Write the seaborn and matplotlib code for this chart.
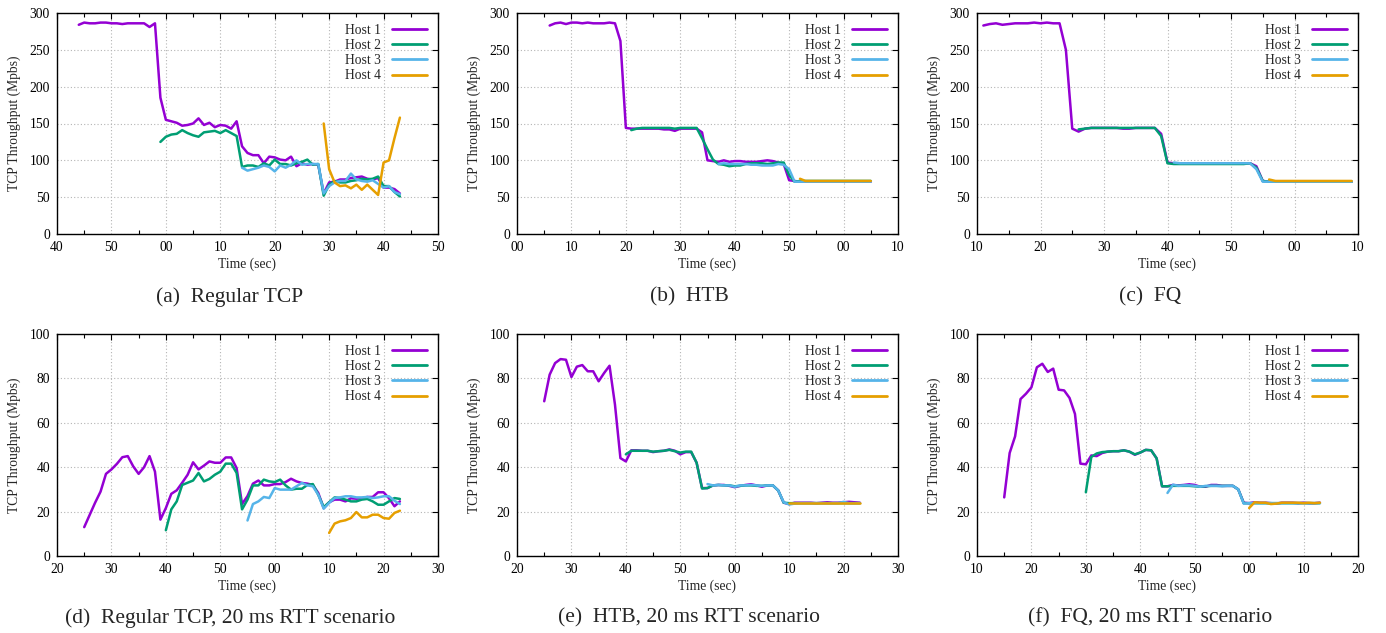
import numpy as np
import pandas as pd
import matplotlib
matplotlib.use("Agg")
import matplotlib.pyplot as plt
from matplotlib.ticker import FuncFormatter, MultipleLocator
import seaborn as sns

# ---------------- data (per-second throughput samples, Mbps) ----------------
HOSTS = ["Host 1", "Host 2", "Host 3", "Host 4"]
COLORS = ["#9400D3", "#009E73", "#56B4E9", "#E69F00"]

# (a) Regular TCP
A_START = [44, 59, 74, 89]
A_H1 = [284, 287, 286, 286, 287, 287, 286, 286, 285, 286, 286, 286, 286, 281, 286,
        185, 155, 153, 151, 147, 148, 150, 157, 148, 151, 145, 148, 147, 143, 153,
        119, 110, 107, 107, 96, 105, 104, 101, 100, 105, 92, 96, 94, 95, 94,
        55, 70, 71, 74, 74, 76, 77, 78, 75, 74, 76, 63, 63, 61, 55]
A_H2 = [125, 132, 135, 136, 141, 137, 134, 132, 138, 139, 140, 137, 141, 137, 133,
        91, 93, 93, 91, 96, 93, 101, 95, 95, 93, 96, 98, 101, 94, 95,
        52, 67, 72, 70, 70, 72, 73, 75, 74, 75, 78, 65, 65, 57, 51]
A_H3 = [90, 86, 88, 90, 93, 91, 85, 93, 90, 94, 100, 94, 95, 95, 95,
        55, 65, 70, 72, 72, 82, 74, 72, 71, 73, 68, 63, 65, 57, 54]
A_H4 = [150, 88, 70, 65, 66, 62, 67, 60, 67, 60, 53, 97, 100, 130, 158]

# (b) HTB
B_START = [6, 21, 37, 52]
B_H1 = [283, 286, 287, 285, 287, 287, 286, 287, 286, 286, 286, 287, 286, 262, 144,
        143, 143, 143, 143, 143, 143, 142, 142, 140, 143, 143, 143, 143, 138, 100,
        99, 98, 100, 98, 99, 99, 98, 98, 98, 99, 100, 99, 97, 95, 73,
        72, 71, 71, 71, 71, 71, 71, 71, 71, 71, 71, 71, 71, 71, 71]
B_H2 = [141, 143, 144, 144, 144, 144, 144, 144, 143, 144, 144, 144, 144, 130, 115,
        101, 95, 94, 92, 93, 93, 95, 96, 96, 96, 95, 96, 97, 97, 80,
        71, 72, 72, 72, 72, 72, 72, 72, 72, 72, 72, 72, 72, 72, 72]
B_H3 = [95, 96, 95, 95, 95, 95, 94, 94, 93, 93, 93, 95, 94, 88, 71,
        71, 71, 71, 71, 71, 71, 71, 71, 71, 71, 71, 71, 71, 71]
B_H4 = [75, 72, 72, 72, 72, 72, 72, 72, 72, 72, 72, 72, 72, 72]

# (c) FQ
C_START = [11, 26, 41, 56]
C_H1 = [283, 285, 286, 284, 285, 286, 286, 286, 287, 286, 287, 286, 286, 250, 143,
        139, 143, 144, 144, 144, 144, 144, 143, 143, 144, 144, 144, 144, 136, 97,
        96, 96, 96, 96, 96, 96, 96, 96, 96, 96, 96, 96, 96, 92, 72,
        71, 71, 71, 71, 71, 71, 71, 71, 71, 71, 71, 71, 71, 71]
C_H2 = [142, 143, 144, 144, 144, 144, 144, 144, 144, 144, 144, 144, 144, 133, 96,
        95, 95, 95, 95, 95, 95, 95, 95, 95, 95, 95, 95, 96, 90, 72,
        71, 71, 71, 71, 71, 71, 71, 71, 71, 71, 71, 71, 71, 71]
C_H3 = [97, 96, 96, 96, 96, 96, 96, 96, 96, 96, 96, 96, 96, 88, 71,
        71, 71, 71, 71, 71, 71, 71, 71, 71, 71, 71, 71, 71, 71]
C_H4 = [74, 72, 72, 72, 72, 72, 72, 72, 72, 72, 72, 72, 72, 72]

# (d) Regular TCP, 20 ms RTT
D_START = [25, 40, 55, 70]
D_H1 = [13, 18.5, 24, 29, 37, 39, 41.5, 44.5, 45, 40.4, 37, 40, 45, 38, 16.4,
        21.6, 28, 29.6, 33, 36.6, 42.2, 39, 40.7, 42.6, 42, 42, 44.4, 44.4, 39.6, 23.4,
        27, 32.6, 34, 31.8, 31.8, 32.4, 32.4, 33.3, 34.8, 33.6, 32.9, 32.6, 32, 28.4, 21.6,
        24.2, 25.4, 25.4, 24.6, 26, 25.8, 26, 26.6, 26.6, 28.7, 28.7, 26, 22.4, 24.6]
D_H2 = [11.6, 21, 24.6, 32, 33, 34, 37.4, 33.6, 34.7, 36.6, 38, 41.6, 41.6, 37.4, 21,
        25.4, 31.8, 31.8, 34.4, 33.6, 33.3, 34.4, 31.8, 29.9, 30.3, 30.3, 32, 32.4, 27.6, 22,
        24.2, 26.4, 26.1, 25.4, 24.6, 24.6, 25.4, 25.7, 24.6, 23.1, 23.1, 24.6, 26.1, 25.7]
D_H3 = [16, 23.4, 24.6, 26.6, 26.1, 30.6, 29.9, 29.9, 29.9, 31.4, 32.9, 31.8, 31.4, 27.6, 21.3,
        23.9, 26.1, 26.4, 26.9, 26.9, 26.4, 26.4, 26.6, 26.1, 26.4, 26.9, 26.9, 24.9, 23.4]
D_H4 = [10.4, 14.6, 15.6, 16.1, 17.1, 19.8, 17.4, 17.4, 18.6, 18.6, 17.1, 16.8, 19.4, 20.4]

# (e) HTB, 20 ms RTT
E_START = [25, 40, 55, 70]
E_H1 = [69.7, 81.7, 86.9, 88.7, 88.4, 80.6, 85.3, 86, 83.2, 83.2, 78.7, 82.4, 85.7, 68.2, 44.1,
        42.6, 47.6, 47.6, 47.4, 47.4, 46.8, 47.2, 47.4, 48, 47.4, 45.8, 46.8, 46.8, 42, 30.6,
        30.6, 31.8, 32, 32, 31.6, 31, 31.6, 32, 32.3, 31.8, 31.2, 31.8, 31.8, 29.5, 24,
        23.4, 24, 24, 24, 24, 23.8, 24, 24.2, 24, 24, 24.2, 24.4, 24.2, 24]
E_H2 = [45.8, 47.4, 47.4, 47.4, 47.4, 47, 47.2, 47.4, 47.8, 47.2, 46.6, 47, 47, 42, 30.4,
        30.6, 31.8, 32, 31.8, 31.8, 31.4, 31.6, 31.8, 31.8, 31.6, 31.6, 31.8, 31.8, 29.5, 24,
        23.8, 23.8, 23.8, 23.8, 23.8, 23.8, 23.8, 23.8, 23.8, 23.8, 23.8, 23.8, 23.8, 23.8]
E_H3 = [32.4, 31.8, 32, 31.8, 31.8, 31.2, 31.8, 31.8, 32, 31.8, 31.6, 31.8, 31.8, 29.5, 24.2,
        23.2, 23.6, 23.8, 23.8, 23.8, 23.8, 23.8, 23.8, 23.8, 23.8, 24.4, 23.8, 23.8, 23.8]
E_H4 = [24, 24, 24, 24, 24, 24, 24, 24, 24, 24, 24, 24, 24, 24]

# (f) FQ, 20 ms RTT
F_START = [15, 30, 45, 60]
F_H1 = [26.4, 46.4, 53.9, 70.7, 73.1, 76, 85, 86.6, 82.9, 84.4, 74.9, 74.6, 71.2, 64, 41.6,
        41.3, 45.3, 45, 46.4, 47, 47.2, 47.2, 47.6, 47, 45.6, 46.6, 47.8, 47.6, 44, 31.4,
        31.4, 32, 31.8, 32, 32.3, 32, 31.2, 31.2, 32, 32, 31.6, 31.6, 31.6, 30, 24,
        23.8, 24.2, 24, 24, 23.8, 23.6, 24, 24, 24, 23.8, 24, 23.8, 23.8, 24]
F_H2 = [28.7, 44.6, 46.2, 46.8, 47, 47.2, 47.2, 47.6, 47, 45.8, 46.6, 47.8, 47.6, 44, 31.4,
        31.4, 31.6, 31.6, 31.6, 31.6, 31.4, 31.2, 31.4, 31.6, 31.6, 31.6, 31.6, 31.6, 30, 23.8,
        23.8, 23.8, 23.8, 23.8, 23.8, 23.8, 23.8, 23.8, 23.8, 23.8, 23.8, 23.8, 23.8, 23.8]
F_H3 = [28.4, 32.1, 31.6, 31.8, 31.8, 31.6, 31.2, 31.6, 31.6, 31.6, 31.4, 31.6, 31.6, 30, 23.6,
        23.8, 23.8, 23.8, 23.8, 23.8, 23.8, 23.8, 23.8, 23.8, 23.8, 23.8, 23.8, 23.8, 23.8]
F_H4 = [21.6, 24.2, 24, 24, 23.4, 23.6, 24, 24, 24, 24, 23.8, 24, 23.8, 24]

CAPTIONS = ["(a)  Regular TCP", "(b)  HTB", "(c)  FQ",
            "(d)  Regular TCP, 20 ms RTT scenario", "(e)  HTB, 20 ms RTT scenario",
            "(f)  FQ, 20 ms RTT scenario"]
XRANGES = [(40, 110), (0, 70), (10, 70), (20, 90), (20, 90), (10, 80)]
YMAX = [300, 300, 300, 100, 100, 100]
YSTEP = [50, 50, 50, 20, 20, 20]

PANELS = [
    (A_START, [A_H1, A_H2, A_H3, A_H4]),
    (B_START, [B_H1, B_H2, B_H3, B_H4]),
    (C_START, [C_H1, C_H2, C_H3, C_H4]),
    (D_START, [D_H1, D_H2, D_H3, D_H4]),
    (E_START, [E_H1, E_H2, E_H3, E_H4]),
    (F_START, [F_H1, F_H2, F_H3, F_H4]),
]

# ---------------- styling ----------------
sns.set_style("white")
plt.rcParams["font.family"] = ["Liberation Serif", "DejaVu Serif"]
plt.rcParams["axes.linewidth"] = 1.0
plt.rcParams["axes.edgecolor"] = "black"

fig = plt.figure(figsize=(13.86, 6.33), dpi=100)
W, H = 1386.0, 633.0
lefts = [57, 517, 977]
rows = [(13, 234), (334, 556)]
cap_x = [230, 689, 1150]
cap_y = [297, 618]

FS = 9.8
palette = dict(zip(HOSTS, COLORS))

for i, (starts, series) in enumerate(PANELS):
    r, c = divmod(i, 3)
    top, bot = rows[r]
    ax = fig.add_axes([lefts[c] / W, 1 - bot / H, 381 / W, (bot - top) / H])
    frames = []
    for host, st, vals in zip(HOSTS, starts, series):
        frames.append(pd.DataFrame({"t": np.arange(st, st + len(vals)),
                                    "v": vals, "Host": host}))
    df = pd.concat(frames, ignore_index=True)
    sns.lineplot(data=df, x="t", y="v", hue="Host", hue_order=HOSTS,
                 palette=palette, estimator=None, linewidth=1.8, ax=ax,
                 legend=True)
    leg = ax.get_legend()
    handles = leg.legend_handles
    labels = [t.get_text() for t in leg.get_texts()]
    for h in handles:
        h.set_linewidth(2.0)
    ax.legend(handles, labels, loc="upper right", frameon=False, markerfirst=False,
              fontsize=FS, handlelength=2.6, labelspacing=0.16, borderaxespad=0.4,
              handletextpad=0.8)

    x0, x1 = XRANGES[i]
    ax.set_xlim(x0, x1)
    ax.set_ylim(0, YMAX[i])
    ax.xaxis.set_major_locator(MultipleLocator(10))
    ax.xaxis.set_minor_locator(MultipleLocator(5))
    ax.yaxis.set_major_locator(MultipleLocator(YSTEP[i]))
    ax.xaxis.set_major_formatter(FuncFormatter(lambda v, p: f"{int(round(v)) % 60:02d}"))
    ax.tick_params(which="major", direction="in", length=4, width=0.8, top=True,
                   right=True, labelsize=FS, pad=5, colors="black")
    ax.tick_params(axis="x", which="minor", direction="in", length=3, width=0.8,
                   top=True, bottom=True, colors="black")
    ax.grid(True, which="major", linestyle=(0, (1, 2)), color="#b4b4b4", linewidth=0.8)
    ax.set_xlabel("Time (sec)", fontsize=FS)
    ax.set_ylabel("TCP Throughput (Mpbs)", fontsize=FS)
    ax.xaxis.set_label_coords(0.5, -0.105)
    ax.yaxis.set_label_coords(-0.095, 0.5)
    for s in ax.spines.values():
        s.set_visible(True)
        s.set_color("black")

    fig.text(cap_x[c] / W, 1 - cap_y[r] / H, CAPTIONS[i], ha="center", va="center",
             fontsize=15.5)

fig.savefig("out.png", dpi=100)
